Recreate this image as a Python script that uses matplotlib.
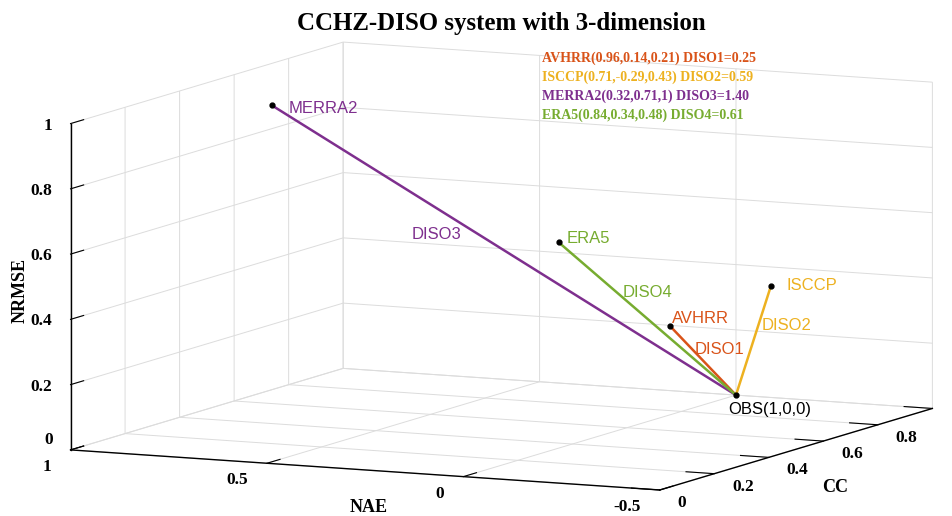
import numpy as np
import matplotlib.pyplot as plt
from mpl_toolkits.mplot3d import proj3d

plt.rcParams['grid.color'] = '#dcdcdc'
plt.rcParams['grid.linewidth'] = 0.7

# datasets: (CC, NAE, NRMSE) and their distance to OBS
names = ['AVHRR', 'ISCCP', 'MERRA2', 'ERA5']
cc = [0.96, 0.71, 0.32, 0.84]
nae = [0.14, -0.29, 0.71, 0.34]
nrmse = [0.21, 0.43, 1.0, 0.48]
diso = [0.25, 0.59, 1.40, 0.61]
obs = (1, 0, 0)   # CC, NAE, NRMSE

nae_ticks = [1, 0.5, 0, -0.5]
cc_ticks = [0, 0.2, 0.4, 0.6, 0.8, 1]
nrmse_ticks = [0, 0.2, 0.4, 0.6, 0.8, 1]

colors = ['#D95319', '#EDB120', '#7E2F8E', '#77AC30']
serif = 'Liberation Serif'
sans = 'Liberation Sans'

fig = plt.figure(figsize=(9.53, 5.16), dpi=100)
ax = fig.add_axes([18 / 953, -15 / 516, 1.0, 1.0], projection='3d', proj_type='ortho')

for i in range(4):
    ax.plot([obs[1], nae[i]], [obs[0], cc[i]], [obs[2], nrmse[i]],
            color=colors[i], lw=1.8, clip_on=False)
    ax.plot([nae[i]], [cc[i]], [nrmse[i]], 'o', color='k', ms=3.5, clip_on=False)
ax.plot([obs[1]], [obs[0]], [obs[2]], 'o', color='k', ms=3.5, clip_on=False)

ax.set_xlim(1, -0.5)
ax.set_ylim(0, 1)
ax.set_zlim(0, 1)
ax.set_xticks(nae_ticks)
ax.set_yticks(cc_ticks)
ax.set_zticks(nrmse_ticks)
ax.set_xticklabels([''] * len(nae_ticks))
ax.set_yticklabels([''] * len(cc_ticks))
ax.set_zticklabels([''] * len(nrmse_ticks))

ax.view_init(elev=8.2, azim=-64.5)
ax.set_box_aspect((1, 0.97, 0.505), zoom=1.82)
ax.zaxis.set_ticks_position('lower')

for axis in (ax.xaxis, ax.yaxis, ax.zaxis):
    axis.set_pane_color((1, 1, 1, 0))
    axis.pane.set_edgecolor('#cfcfcf')
    axis.line.set_color('black')
    axis.line.set_linewidth(1.0)
    axis._axinfo['tick']['inward_factor'] = 0.0
    axis._axinfo['tick']['outward_factor'] = 0.6

fig.canvas.draw()
M = ax.get_proj()


def put_text(x, y, z, text, dx, dy, ha='left', **kw):
    px, py, _ = proj3d.proj_transform(x, y, z, M)
    ax.annotate(text, xy=(px, py), xytext=(dx, dy), textcoords='offset pixels',
                ha=ha, va='center', annotation_clip=False, **kw)


# tick labels
tick_font = dict(fontsize=12.5, fontfamily=serif, fontweight='bold')
for v in nae_ticks:
    put_text(v, 0, 0, '%g' % v, -19, -17, ha='right', **tick_font)
for v in cc_ticks:
    put_text(-0.5, v, 0, '%g' % v, 18, -13, **tick_font)
for v in nrmse_ticks:
    put_text(1, 0, v, '%g' % v, -18, 10 if v == 0 else -2, ha='right', **tick_font)

# dataset names beside the points
name_font = dict(fontsize=12, fontfamily=sans)
name_off = [(2, 8), (16, 1), (17, -3), (8, 4)]
for i in range(4):
    put_text(nae[i], cc[i], nrmse[i], names[i], *name_off[i], color=colors[i], **name_font)
put_text(obs[1], obs[0], obs[2], 'OBS(1,0,0)', -8, -14, color='black', **name_font)

# DISO labels near the middle of each line
diso_off = [(-8, 11), (8, 15), (-92, 16), (-25, 26)]
for i in range(4):
    mx = (nae[i] + obs[1]) / 2
    my = (cc[i] + obs[0]) / 2
    mz = (nrmse[i] + obs[2]) / 2
    put_text(mx, my, mz, 'DISO%d' % (i + 1), *diso_off[i], color=colors[i], **name_font)

fig.text(501 / 953, 0.955, 'CCHZ-DISO system with 3-dimension', ha='center', va='center',
         fontsize=17.9, fontfamily=serif, fontweight='bold')

# axis titles
label_font = dict(fontsize=13, fontfamily=serif, fontweight='bold', ha='center', va='center')
fig.text(369 / 953, 1 - 507 / 516, 'NAE', **label_font)
fig.text(835 / 953, 1 - 487 / 516, 'CC', **label_font)
fig.text(20 / 953, 1 - 290 / 516, 'NRMSE', rotation=90, **label_font)

# summary text
for i in range(4):
    coords = ','.join('%g' % v for v in (cc[i], nae[i], nrmse[i]))
    fig.text(542 / 953, 1 - (58 + 19 * i) / 516,
             '%s(%s) DISO%d=%.2f' % (names[i], coords, i + 1, diso[i]),
             color=colors[i], fontsize=10, fontfamily=serif, fontweight='bold',
             va='center')

fig.savefig('out.png', dpi=100)
